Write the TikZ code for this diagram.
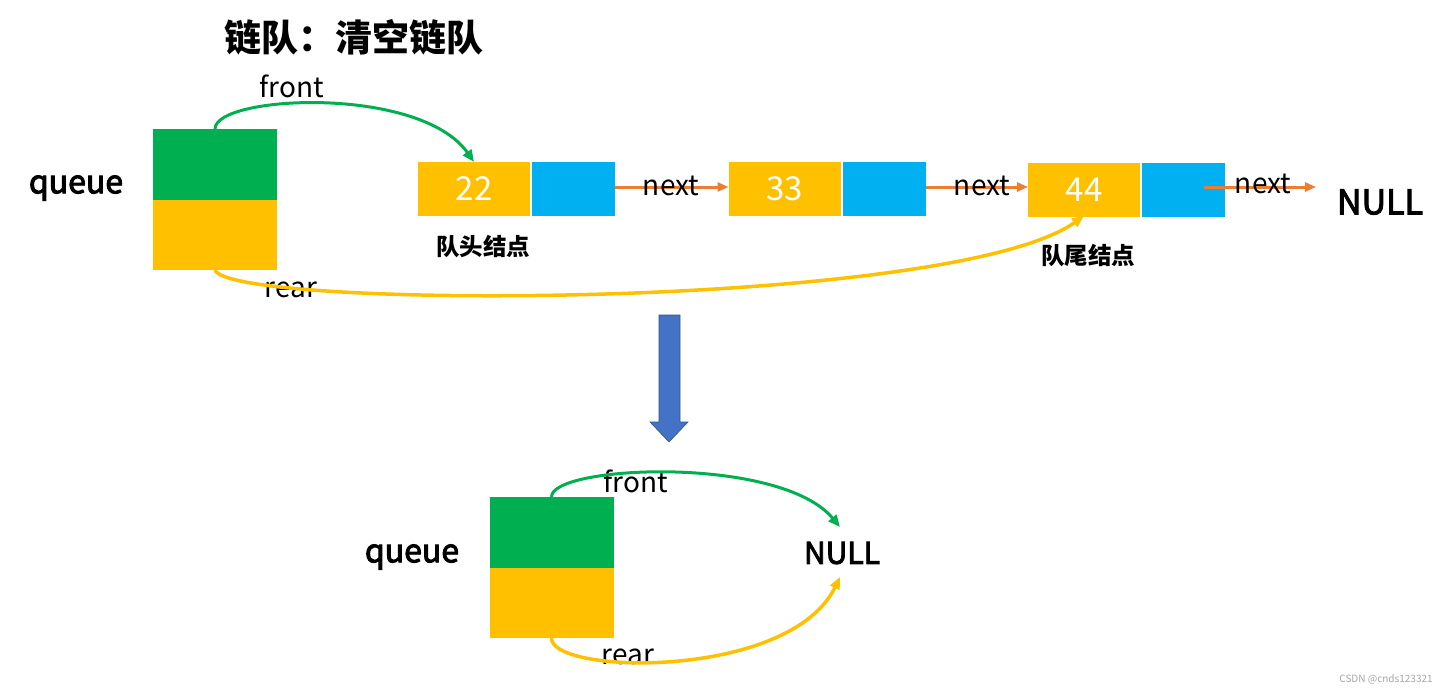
\documentclass[tikz,border=0pt]{standalone}
\usepackage{fontspec}
\setmainfont{Noto Sans CJK SC}
\newfontfamily\heavyish[FakeBold=3]{Noto Sans CJK SC}
\usetikzlibrary{arrows.meta}
\definecolor{qgreen}{HTML}{00B050}
\definecolor{qyellow}{HTML}{FFC000}
\definecolor{qblue}{HTML}{00B0F0}
\definecolor{qorange}{HTML}{ED7D31}
\definecolor{qarrow}{HTML}{4472C4}
\definecolor{qarrowedge}{HTML}{2F528F}
\tikzset{
  box/.style={inner sep=0pt, outer sep=0pt, draw=none, minimum width=#1},
  gbox/.style={box=124pt, fill=qgreen, minimum height=71pt},
  ybox/.style={box=124pt, fill=qyellow, minimum height=70pt},
  valbox/.style={box=112pt, fill=qyellow, minimum height=54pt, text=white, font=\fontsize{33}{35}\selectfont},
  ptrbox/.style={box=83pt, fill=qblue, minimum height=54pt},
  lbl/.style={inner sep=0pt, font=\fontsize{28}{30}\selectfont},
  boldlbl/.style={inner sep=0pt, font=\fontsize{32}{36}\selectfont\heavyish},
  smallbold/.style={inner sep=0pt, font=\fontsize{23.5}{25}\selectfont\bfseries},
  nextarrow/.style={qorange, line width=3pt, -{Triangle[length=11pt,width=9pt]}},
  frontarrow/.style={qgreen, line width=3pt, -{Triangle[length=12pt,width=10pt]}},
  reararrow/.style={qyellow, line width=3.5pt, -{Triangle[length=12pt,width=10pt]}},
}
\begin{document}
\begin{tikzpicture}[x=1pt,y=-1pt]
\useasboundingbox (0,0) rectangle (1447,693);
% title
\node[inner sep=0pt, font=\fontsize{37}{40}\selectfont\bfseries] (title) at (354,37) {链队：清空链队};
% ---------- top part ----------
\node[boldlbl] (queueA) at (76,188) {queue};
\node[gbox] (qfA) at (215,164.5) {};
\node[ybox] (qrA) at (215,235) {};
% nodes
\node[valbox] (v22) at (474,189) {22};
\node[ptrbox] (p22) at (573.5,189) {};
\node[valbox] (v33) at (784.5,189) {33};
\node[ptrbox] (p33) at (884,189) {};
\node[valbox] (v44) at (1084,190) {44};
\node[ptrbox] (p44) at (1183.5,190) {};
\node[smallbold] (headlbl) at (483,247) {队头结点};
\node[smallbold] (taillbl) at (1088,256) {队尾结点};
\node[inner sep=0pt, font=\fontsize{34}{36}\selectfont\heavyish] (nullA) at (1380,202) {NULL};
\coordinate (nullAend) at (1316,187);
\coordinate (p44start) at (1204,187);
% next arrows with labels
\draw[nextarrow] (p22.east |- 0,187) -- (v33.west |- 0,187);
\node[lbl] (nx1) at (671,186) {next};
\draw[nextarrow] (p33.east |- 0,187) -- (v44.west |- 0,187);
\node[lbl] (nx2) at (982,186) {next};
\draw[nextarrow] (p44start) -- (nullAend);
\node[lbl] (nx3) at (1263,184) {next};
% front / rear labels
\node[lbl] (frontA) at (292,86) {front};
\node[lbl] (rearA) at (291,290) {rear};
\draw[frontarrow] (qfA.north) .. controls (215,95) and (420,85) .. (v22.north);
\draw[reararrow] (qrA.south) .. controls (230,310) and (950,310) .. ([yshift=1pt]v44.south);
% ---------- down arrow ----------
\fill[qarrow, draw=qarrowedge, line width=0.6pt]
  (659,315) -- (680,315) -- (680,422) -- (688,422) -- (669,442) -- (650,422) -- (659,422) -- cycle;
% ---------- bottom part ----------
\node[boldlbl] (queueB) at (412,557) {queue};
\node[gbox] (qfB) at (551.5,532.5) {};
\node[ybox] (qrB) at (551.5,603) {};
\node[inner sep=0pt, font=\fontsize{30}{32}\selectfont\heavyish] (nullB) at (842,553) {NULL};
\node[lbl] (frontB) at (636,481) {front};
\node[lbl] (rearB) at (628,657) {rear};
\coordinate (nullBtop) at (840,527);
\coordinate (nullBbot) at (840,577);
\draw[frontarrow] (qfB.north) .. controls (551,465) and (780,455) .. (nullBtop);
\draw[reararrow] (qrB.south) .. controls (551,675) and (790,680) .. (nullBbot);
% watermark
\node[inner sep=0pt, text=gray!70, font=\fontsize{10}{12}\selectfont] (wm) at (1386,679) {CSDN @cnds123321};
\end{tikzpicture}
\end{document}
